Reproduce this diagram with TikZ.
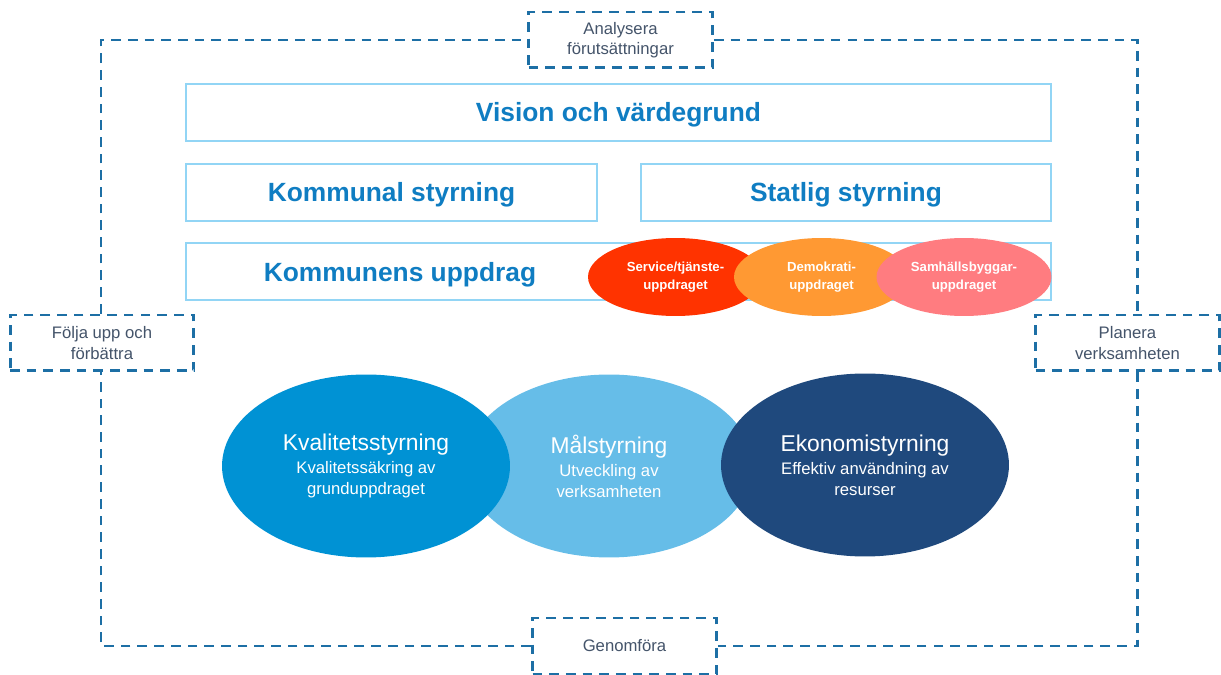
\documentclass[tikz,border=0pt]{standalone}
\usepackage{fontspec}
\setmainfont{Liberation Sans}
\usetikzlibrary{shapes.geometric}

\definecolor{boxblue}{HTML}{92D5F5}
\definecolor{headblue}{HTML}{0F7DC2}
\definecolor{dashblue}{HTML}{1D6FA5}
\definecolor{labelgray}{HTML}{44546A}
\definecolor{kvalblue}{HTML}{0092D4}
\definecolor{malblue}{HTML}{66BDE8}
\definecolor{ekoblue}{HTML}{1F497D}
\definecolor{servred}{HTML}{FF3300}
\definecolor{demoorange}{HTML}{FF9933}
\definecolor{samhpink}{HTML}{FF7C80}

\begin{document}
\begin{tikzpicture}[x=0.02cm, y=-0.02cm,
	frame/.style={draw=boxblue, line width=1.5pt, minimum height=1.14cm, inner sep=0pt},
	headtext/.style={text=headblue, font=\fontsize{15}{18}\selectfont\bfseries, yshift=-0.05cm},
	stepbox/.style={draw=dashblue, dash pattern=on 5.5pt off 4pt, line width=1.7pt, fill=white, minimum width=3.68cm, minimum height=1.12cm, align=center, text=labelgray, font=\fontsize{9.5}{11.5}\selectfont},
	dashline/.style={draw=dashblue, dash pattern=on 5.5pt off 4pt, line width=1.7pt},
	bigell/.style={ellipse, minimum width=5.76cm, minimum height=3.66cm, inner sep=0pt, text=white, align=center},
	smallell/.style={ellipse, minimum width=3.5cm, minimum height=1.56cm, inner sep=0pt, text=white, align=center, font=\fontsize{7.5}{10}\selectfont\bfseries}]
		\useasboundingbox (0,0) rectangle (1221,675);
		
		% Boxes
		\node[frame, minimum width=17.3cm] (vision) at (618.5,112.5) {};
		\node[frame, minimum width=8.22cm] (kommunal) at (391.5,192.5) {};
		\node[frame, minimum width=8.2cm] (statlig) at (846,192.5) {};
		\node[frame, minimum width=17.3cm] (uppdrag) at (618.5,271.5) {};
		\node[headtext] (visiontext) at (vision) {Vision och värdegrund};
		\node[headtext] (kommunaltext) at (kommunal) {Kommunal styrning};
		\node[headtext] (statligtext) at (statlig) {Statlig styrning};
		\node[headtext] (uppdragtext) at (400,272) {Kommunens uppdrag};
		
		% Small ellipses
		\node[smallell, fill=servred] (service) at (675.5,277) {Service/tjänste-\\uppdraget};
		\node[smallell, fill=demoorange] (demokrati) at (821.5,277) {Demokrati-\\uppdraget};
		\node[smallell, fill=samhpink] (samhalle) at (964,277) {Samhällsbyggar-\\uppdraget};
		
		% Big ellipses
		\node[bigell, fill=malblue] (mal) at (609,466) {{\fontsize{13}{15}\selectfont Målstyrning}\\[1pt]{\fontsize{9.5}{12}\selectfont Utveckling av}\\{\fontsize{9.5}{12}\selectfont verksamheten}};
		\node[bigell, fill=kvalblue] (kvalitet) at (366,466) {{\fontsize{13}{15}\selectfont Kvalitetsstyrning}\\[1pt]{\fontsize{9.5}{12}\selectfont Kvalitetssäkring av}\\{\fontsize{9.5}{12}\selectfont grunduppdraget}};
		\node[bigell, fill=ekoblue] (ekonomi) at (865,465) {{\fontsize{13}{15}\selectfont Ekonomistyrning}\\[1pt]{\fontsize{9.5}{12}\selectfont Effektiv användning av}\\{\fontsize{9.5}{12}\selectfont resurser}};
		
		% Cycle
		\coordinate (ne) at (1137,40);
		\coordinate (se) at (1137,646);
		\coordinate (sw) at (101,646);
		\coordinate (nw) at (101,40);
		\node[stepbox] (analysera) at (620.5,40) {Analysera\\förutsättningar};
		\node[stepbox] (planera) at (1127.5,343) {Planera\\verksamheten};
		\node[stepbox] (genomfora) at (624.5,646) {Genomföra};
		\node[stepbox] (folja) at (102,343) {Följa upp och\\förbättra};
		\draw[dashline] (analysera.east) -- (ne) -- (ne |- planera.north);
		\draw[dashline] (ne |- planera.south) -- (se) -- (genomfora.east);
		\draw[dashline] (genomfora.west) -- (sw) -- (sw |- folja.south);
		\draw[dashline] (sw |- folja.north) -- (nw) -- (analysera.west);
		
	\end{tikzpicture}
\end{document}
